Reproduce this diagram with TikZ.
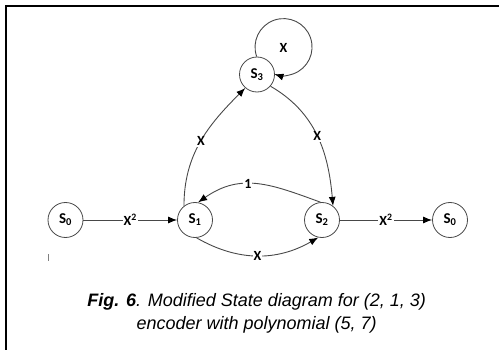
\documentclass[tikz,border=0pt]{standalone}
\usepackage{fontspec}
\setmainfont{Liberation Sans}
\newfontfamily\lblfont{Carlito}
\usetikzlibrary{arrows.meta}
\definecolor{edgegray}{HTML}{484848}
\begin{document}
\begin{tikzpicture}[x=1pt,y=1pt,
  state/.style={circle,draw=edgegray,line width=0.8pt,minimum size=35pt,inner sep=0pt,
    font=\lblfont\bfseries\fontsize{15}{15}\selectfont,fill=white},
  conn/.style={draw=edgegray,line width=0.9pt,-{Latex[length=9pt,width=7pt,color=black]}},
  lbl/.style={fill=white,inner sep=1pt,font=\lblfont\bfseries\fontsize{14}{14}\selectfont,text=black},
  caption/.style={font=\fontsize{18}{23}\selectfont\itshape,align=center}]
\useasboundingbox (0,0) rectangle (499,349);
\draw[line width=2pt] (6,-5) -- (6,343) -- (505,343);
\draw[gray,line width=1pt] (48,88.3) -- (48,95);
\node[state] (A) at (65.5,129) {S\textsubscript{0}};
\node[state] (S1) at (195,129) {S\textsubscript{1}};
\node[state] (S2) at (322,129) {S\textsubscript{2}};
\node[state] (B) at (450,129) {S\textsubscript{0}};
\node[state] (S3) at (257,274.5) {S\textsubscript{3}};
\draw[conn] (A) -- node[lbl]{X\textsuperscript{2}} (S1);
\draw[conn] (S2) -- node[lbl]{X\textsuperscript{2}} (B);
\draw[conn] (S3.91) arc[start angle=199.5,end angle=-108.5,radius=28.5];
\node[lbl] (loopx) at (283.5,301.5) {X};
\draw[conn] (S1.128) to[out=90,in=225] node[lbl]{X} (S3.229);
\draw[conn] (S3.319) to[out=-30,in=95] node[lbl]{X} (S2.52);
\draw[conn] (S2.95) to[out=160,in=35,looseness=1.1] node[lbl,pos=0.58]{1} (S1.80);
\draw[conn] (S1.-85) to[out=-30,in=210] node[lbl]{X} (S2.258);
\node[caption] (cap) at (256.7,36) {\textbf{Fig. 6}. Modified State diagram for (2, 1, 3)\\encoder with polynomial (5, 7)};
\end{tikzpicture}
\end{document}
